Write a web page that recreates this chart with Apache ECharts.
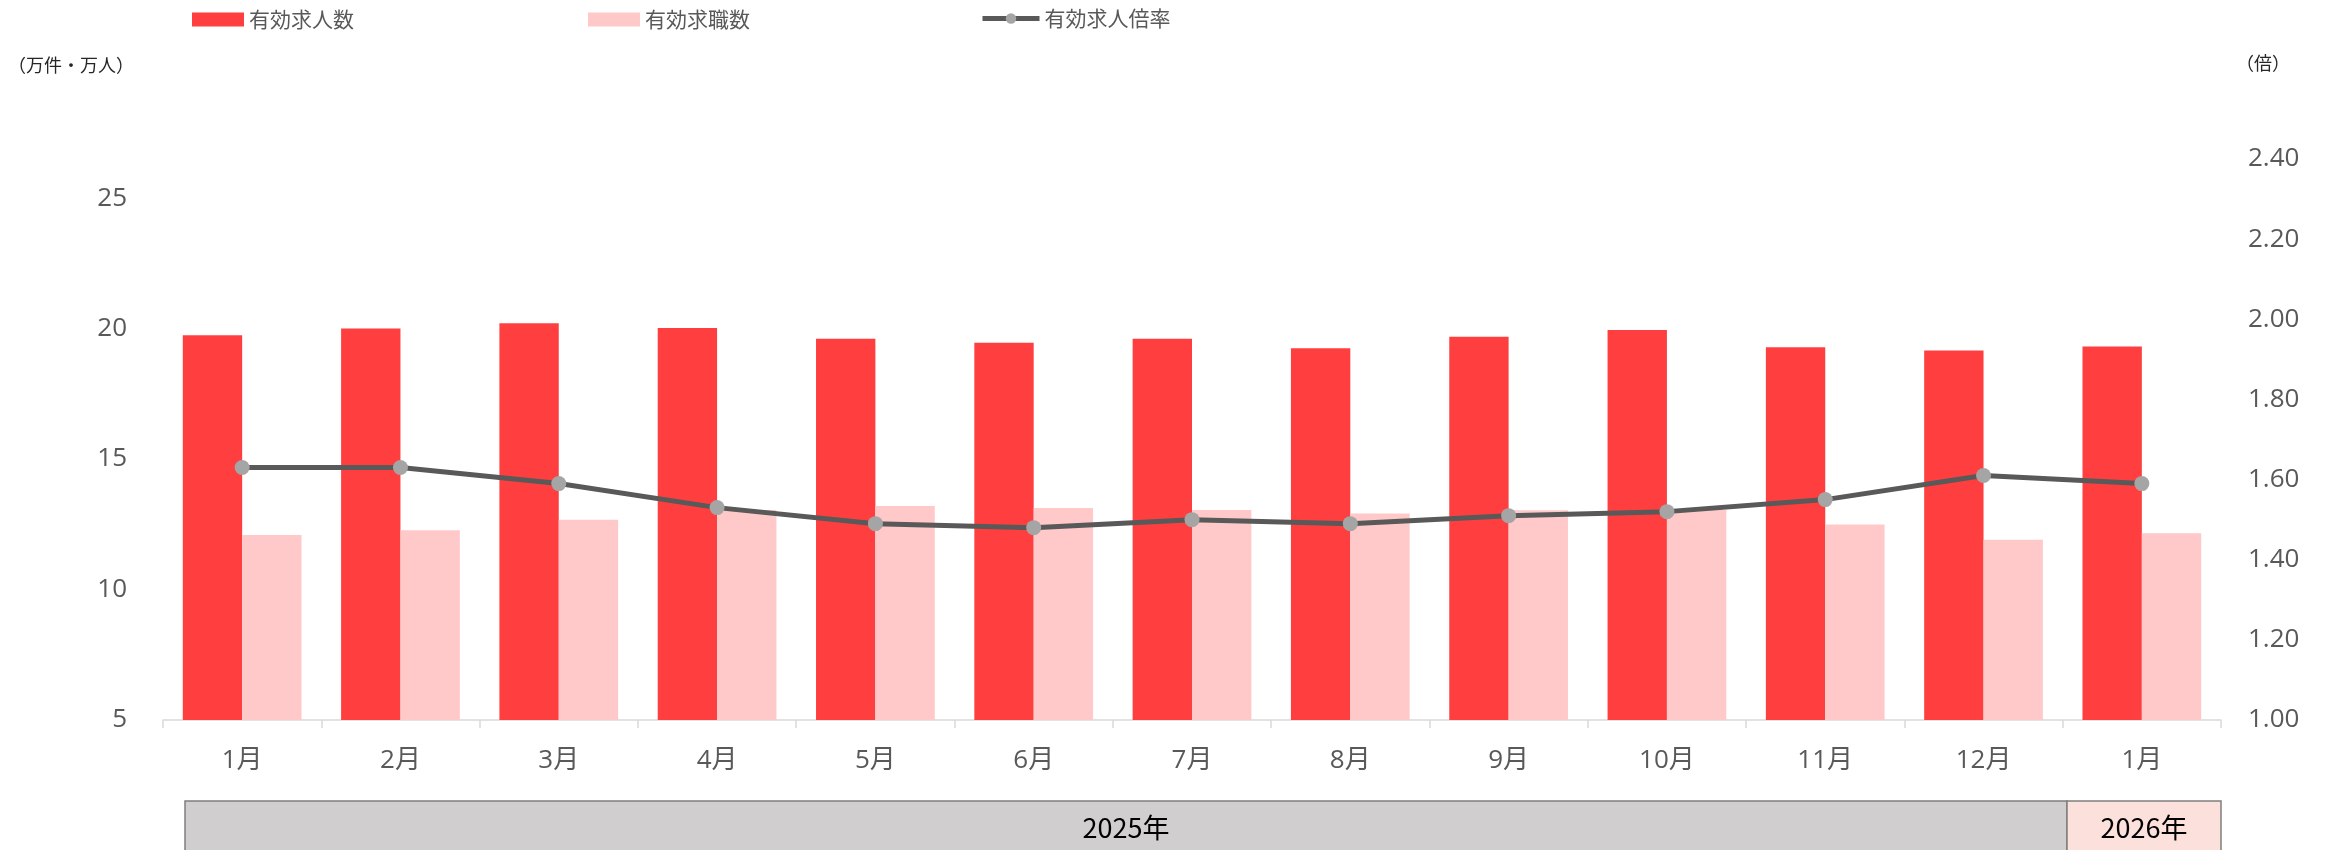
<!DOCTYPE html>
<html>
<head>
<meta charset="utf-8">
<script src="https://cdn.jsdelivr.net/npm/echarts@6/dist/echarts.min.js"></script>
<style>
html,body{margin:0;padding:0;background:#fff;}
#c{width:2331px;height:850px;}
</style>
</head>
<body>
<div id="c"></div>
<script>
const categories = ['1月','2月','3月','4月','5月','6月','7月','8月','9月','10月','11月','12月','1月'];
const jobOffers = [19.75, 20.0, 20.21, 20.02, 19.61, 19.46, 19.61, 19.25, 19.69, 19.95, 19.29, 19.16, 19.31];
const jobSeekers = [12.09, 12.27, 12.67, 13.05, 13.2, 13.12, 13.05, 12.91, 13.04, 13.05, 12.49, 11.91, 12.16];
const ratio = [1.63, 1.63, 1.59, 1.53, 1.49, 1.48, 1.50, 1.49, 1.51, 1.52, 1.55, 1.61, 1.59];
const leftTicks = [5, 10, 15, 20, 25];
const rightTicks = ['1.00','1.20','1.40','1.60','1.80','2.00','2.20','2.40'];
const years = ['2025年', '2026年'];
const seriesNames = ['有効求人数', '有効求職数', '有効求人倍率'];

const numFont = '"Open Sans", "Noto Sans CJK JP", sans-serif';
const jpFont = '"Noto Sans CJK JP", sans-serif';

const chart = echarts.init(document.getElementById('c'), null, {renderer: 'canvas'});

const legendText = {color: '#595959', fontSize: 21, fontFamily: jpFont};

chart.setOption({
  animation: false,
  backgroundColor: '#ffffff',
  grid: {left: 163, right: 110, top: 159, bottom: 130, containLabel: false},
  legend: [
    {data: [{name: seriesNames[0], icon: 'rect'}], left: 187, top: 4, itemWidth: 52, itemHeight: 14, itemGap: 5, textStyle: legendText, selectedMode: false},
    {data: [{name: seriesNames[1], icon: 'rect'}], left: 583, top: 4, itemWidth: 52, itemHeight: 14, itemGap: 5, textStyle: legendText, selectedMode: false},
    {data: [seriesNames[2]], left: 975, top: 3, itemWidth: 57, itemHeight: 13, itemGap: 5, textStyle: legendText, selectedMode: false,
     lineStyle: {width: 5, color: '#595959'}}
  ],
  xAxis: {
    type: 'category',
    data: categories,
    boundaryGap: true,
    axisLine: {show: true, lineStyle: {color: '#d9d9d9', width: 1.5}},
    axisTick: {show: true, length: 8, lineStyle: {color: '#d9d9d9', width: 1.5}},
    axisLabel: {color: '#595959', fontSize: 26, fontFamily: numFont, margin: 28, interval: 0}
  },
  yAxis: [
    {
      type: 'value', min: leftTicks[0], max: 26.5, interval: 5, position: 'left',
      splitLine: {show: false}, axisLine: {show: false}, axisTick: {show: false},
      axisLabel: {color: '#595959', fontSize: 26, fontFamily: numFont, margin: 36, showMaxLabel: false}
    },
    {
      type: 'value', min: Number(rightTicks[0]), max: Number(rightTicks[rightTicks.length - 1]), interval: 0.2, position: 'right',
      splitLine: {show: false}, axisLine: {show: false}, axisTick: {show: false},
      axisLabel: {color: '#595959', fontSize: 26, fontFamily: numFont, margin: 27, formatter: v => v.toFixed(2)}
    }
  ],
  series: [
    {
      name: seriesNames[0], type: 'bar', data: jobOffers, yAxisIndex: 0,
      barCategoryGap: '25%', barGap: '0%',
      itemStyle: {color: '#FF3F3F'}
    },
    {
      name: seriesNames[1], type: 'bar', data: jobSeekers, yAxisIndex: 0,
      barCategoryGap: '25%', barGap: '0%',
      itemStyle: {color: '#FFC9C9'}
    },
    {
      name: seriesNames[2], type: 'line', data: ratio, yAxisIndex: 1,
      symbol: 'circle', symbolSize: 15, z: 5,
      lineStyle: {color: '#595959', width: 5},
      itemStyle: {color: '#A5A5A5', borderWidth: 0}
    }
  ],
  graphic: [
    {type: 'text', left: 8, top: 56, style: {text: '（万件・万人）', fill: '#262626', font: '18px ' + jpFont}},
    {type: 'text', left: 2236, top: 54, style: {text: '（倍）', fill: '#262626', font: '18px ' + jpFont}},
    {type: 'rect', shape: {x: 185, y: 801, width: 1882, height: 60}, style: {fill: '#D0CECE', stroke: '#7F7F7F', lineWidth: 1.5}},
    {type: 'rect', shape: {x: 2067, y: 801, width: 154, height: 60}, style: {fill: '#FBE0DC', stroke: '#7F7F7F', lineWidth: 1.5}},
    {type: 'text', x: 1126, y: 828, style: {text: years[0], fill: '#000', font: '27px ' + jpFont, textAlign: 'center', textVerticalAlign: 'middle'}},
    {type: 'text', x: 2144, y: 828, style: {text: years[1], fill: '#000', font: '27px ' + jpFont, textAlign: 'center', textVerticalAlign: 'middle'}}
  ]
});
</script>
</body>
</html>
